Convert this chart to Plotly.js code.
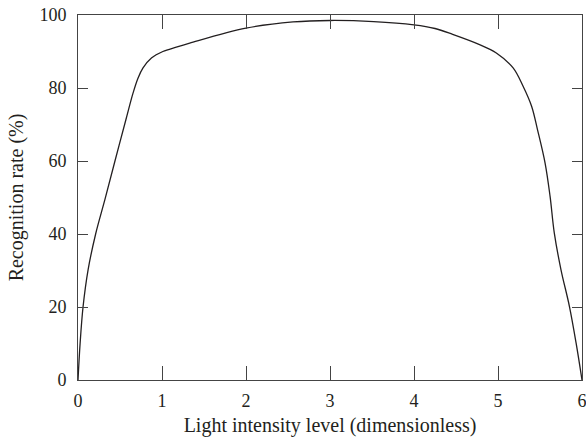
<!DOCTYPE html>
<html>
<head>
<meta charset="utf-8">
<script src="https://cdn.plot.ly/plotly-3.0.1.min.js"></script>
<style>html,body{margin:0;padding:0;background:#fff;}#chart{width:586px;height:443px;}</style>
</head>
<body>
<div id="chart"></div>
<script>
const lightLevel = [0, 0.025, 0.06, 0.12, 0.21, 0.32, 0.44, 0.57, 0.655, 0.714, 0.774, 0.874, 1.01, 1.17, 1.33, 2.0, 2.56, 3.0, 3.52, 4.0, 4.25, 4.46, 4.78, 4.98, 5.18, 5.30, 5.40, 5.47, 5.56, 5.62, 5.67, 5.75, 5.85, 5.93, 6.0];
const recognitionRate = [0, 10, 20, 30.2, 40, 49.4, 60, 71.3, 78.6, 82.7, 85.5, 88.2, 90.0, 91.2, 92.3, 96.4, 98.1, 98.5, 98.2, 97.3, 96.3, 94.7, 91.9, 89.6, 85.5, 80.4, 75.0, 68.6, 59.5, 50.3, 40.3, 30.2, 20.2, 10.1, 0];
const xTicks = [0, 1, 2, 3, 4, 5, 6];
const yTicks = [0, 20, 40, 60, 80, 100];

const tickFont = {family: '"Liberation Serif", "Times New Roman", serif', size: 18, color: '#231f20'};
const titleFont = {family: '"Liberation Serif", "Times New Roman", serif', size: 20, color: '#231f20'};

Plotly.newPlot('chart', [{
  x: lightLevel, y: recognitionRate, type: 'scatter', mode: 'lines',
  line: {color: '#231f20', width: 1.3, shape: 'spline', smoothing: 1},
  hoverinfo: 'none'
}], {
  width: 586, height: 443,
  margin: {l: 78, r: 4, t: 15, b: 63},
  paper_bgcolor: '#fff', plot_bgcolor: '#fff',
  showlegend: false,
  font: tickFont,
  xaxis: {
    range: [0, 6], tickvals: xTicks, ticktext: xTicks.map(String),
    ticks: 'inside', ticklen: 14, tickwidth: 1, tickcolor: '#444',
    showline: true, linecolor: '#444', linewidth: 1, mirror: 'ticks',
    showgrid: false, zeroline: false, tickfont: tickFont,
    ticklabeloverflow: 'allow', ticklabelstandoff: 4,
    title: {text: 'Light intensity level (dimensionless)', font: titleFont, standoff: 8}
  },
  yaxis: {
    range: [0, 100], tickvals: yTicks, ticktext: yTicks.map(String),
    ticks: 'inside', ticklen: 10, tickwidth: 1, tickcolor: '#444',
    showline: true, linecolor: '#444', linewidth: 1, mirror: 'ticks',
    showgrid: false, zeroline: false, tickfont: tickFont,
    ticklabeloverflow: 'allow', ticklabelstandoff: 7,
    title: {text: 'Recognition rate (%)', font: titleFont, standoff: 10}
  }
}, {displayModeBar: false, staticPlot: true});
</script>
</body>
</html>
